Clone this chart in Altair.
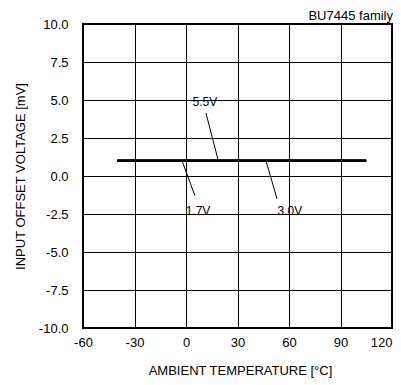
import altair as alt
import pandas as pd

# Data
temps = [-40, 0, 25, 50, 85, 105]
offset_17 = [1.0, 1.0, 1.0, 1.0, 1.0, 1.0]
offset_30 = [1.0, 1.0, 1.0, 1.0, 1.0, 1.0]
offset_55 = [1.0, 1.0, 1.0, 1.0, 1.0, 1.0]

label_text = ["5.5V", "1.7V", "3.0V"]
label_x = [11.0, 7.0, 60.5]
label_y = [4.85, -2.3, -2.3]
leader_x = [11.6, -2.3, 46.6]
leader_y = [4.15, 1.0, 1.0]
leader_x2 = [18.6, 5.2, 53.0]
leader_y2 = [1.1, -1.3, -1.5]

corner_text = ["BU7445 family"]
corner_x = [120]
corner_y = [10.0]

x_ticks = [-60, -30, 0, 30, 60, 90, 120]
y_ticks = [-10.0, -7.5, -5.0, -2.5, 0.0, 2.5, 5.0, 7.5, 10.0]

rows = []
for name, vals in [("1.7V", offset_17), ("3.0V", offset_30), ("5.5V", offset_55)]:
    for t, v in zip(temps, vals):
        rows.append({"x": t, "y": v, "vdd": name})
lines_df = pd.DataFrame(rows)

labels_df = pd.DataFrame({"text": label_text, "x": label_x, "y": label_y})
leaders_df = pd.DataFrame({"x": leader_x, "y": leader_y, "x2": leader_x2, "y2": leader_y2})
corner_df = pd.DataFrame({"text": corner_text, "x": corner_x, "y": corner_y})

FONT = "Liberation Sans"

xscale = alt.Scale(domain=[-60, 120], nice=False, zero=False)
yscale = alt.Scale(domain=[-10, 10], nice=False, zero=False)

xaxis = alt.Axis(
    values=x_ticks, title="AMBIENT TEMPERATURE [°C]", grid=True, gridColor="black",
    gridWidth=1, gridOpacity=1, ticks=False, tickSize=0, domain=False, labelPadding=8,
    labelFontSize=13, labelFont=FONT, labelColor="black", labelFlush=False,
    labelAlign=alt.expr("datum.value >= 120 ? 'right' : 'center'"),
    labelExpr="(datum.value < 0 ? '-' : '') + format(abs(datum.value), 'd')",
    titleFont=FONT, titleFontSize=13, titleFontWeight="normal", titleColor="black",
    titlePadding=15, titleX=157, labelOverlap=False,
)
yaxis = alt.Axis(
    values=y_ticks, title="INPUT OFFSET VOLTAGE [mV]", grid=True,
    gridColor="black", gridWidth=1, gridOpacity=1, ticks=False, tickSize=0, domain=False,
    labelExpr="(datum.value < 0 ? '-' : '') + format(abs(datum.value), '.1f')",
    labelPadding=15, labelFontSize=13, labelFont=FONT, labelColor="black", labelFlush=False,
    titleFont=FONT, titleFontSize=13, titleFontWeight="normal", titleColor="black",
    titleX=-63, titleY=152, titleAngle=270, titleAlign="center", titleBaseline="middle",
    labelOverlap=False,
)

X = alt.X("x:Q", scale=xscale, axis=xaxis)
Y = alt.Y("y:Q", scale=yscale, axis=yaxis)

lines = alt.Chart(lines_df).mark_line(color="black", strokeWidth=2.5).encode(
    x=X, y=Y, detail="vdd:N",
)

leaders = alt.Chart(leaders_df).mark_rule(color="black", strokeWidth=1).encode(
    x=X, y=Y, x2="x2:Q", y2="y2:Q",
)

texts = alt.Chart(labels_df).mark_text(
    font=FONT, fontSize=12, color="black", align="center", baseline="middle"
).encode(x=X, y=Y, text="text:N")

corner = alt.Chart(corner_df).mark_text(
    font=FONT, fontSize=13, color="black", align="right", baseline="alphabetic", dx=1, dy=-4
).encode(x=X, y=Y, text="text:N")

chart = alt.layer(lines, leaders, texts, corner).properties(
    width=309, height=304,
    autosize=alt.AutoSizeParams(type="none"),
    padding={"left": 75, "top": 16, "right": 1, "bottom": 50},
    background="white",
).configure_view(stroke="black", strokeWidth=2)

chart.save("out.html", embed_options={"renderer": "svg", "actions": False})
